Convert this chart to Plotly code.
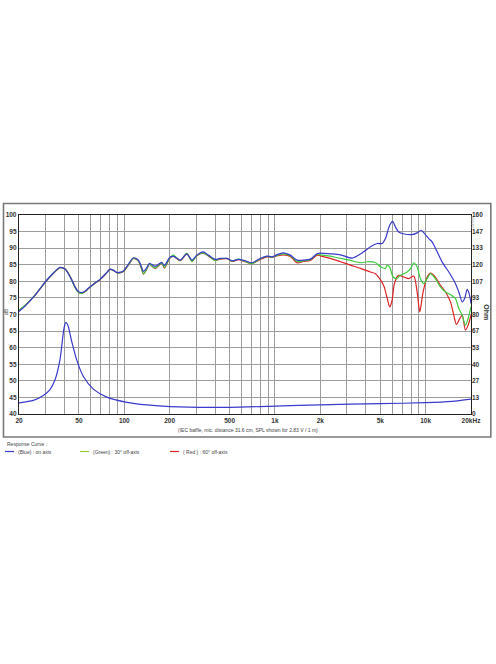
import math
import plotly.graph_objects as go

# ---------------- data ----------------
freq_lf = [20, 22, 25, 27.6, 30.6, 34, 37.4, 40.4, 42.5, 44.8, 47, 49.6, 52.2, 55, 57.7, 63, 69, 75,
           80.5, 85, 89, 95, 99, 107, 115, 124, 129, 134, 140, 147, 160, 177, 185, 200, 212, 235,
           260, 281, 303, 333, 362, 401, 433, 480, 518, 573, 635, 703, 798, 885, 955, 1057, 1141,
           1264, 1400, 1549, 1716, 1900]

spl_blue_lf = [70.9, 72.6, 75.3, 77.8, 80.4, 82.6, 84.2, 83.7, 82.3, 80.4, 78.4, 76.9, 76.6, 77.1, 77.9,
               79.3, 80.6, 82.2, 83.7, 83.3, 82.7, 82.8, 83.2, 85.3, 87.1, 86.4, 84.8, 83.0, 83.9, 85.4,
               84.5, 85.7, 84.8, 87.2, 87.5, 86.4, 88.3, 86.4, 87.9, 88.9, 87.9, 86.6, 86.9, 86.9, 86.2,
               86.6, 86.2, 85.6, 86.9, 87.6, 87.4, 88.2, 88.6, 87.9, 86.4, 86.4, 86.7, 88.3]

spl_green_lf = [71.3, 72.8, 75.4, 77.8, 80.3, 82.6, 84.1, 83.8, 82.4, 80.3, 78.2, 76.6, 76.3, 76.9, 77.8,
                79.3, 80.6, 82.2, 83.6, 83.3, 82.6, 82.7, 83.1, 85.1, 87.0, 86.2, 84.4, 82.3, 83.5, 85.2,
                84.0, 85.5, 84.2, 87.0, 87.9, 86.3, 88.5, 86.0, 87.8, 88.6, 87.7, 86.3, 86.8, 86.9, 86.1,
                86.7, 86.0, 85.3, 86.8, 87.5, 87.3, 88.0, 88.3, 87.7, 86.0, 86.2, 86.5, 88.2]

spl_red_lf = [71.1, 72.7, 75.3, 77.7, 80.3, 82.5, 84.1, 83.8, 82.5, 80.5, 78.3, 76.7, 76.4, 76.9, 77.8,
              79.2, 80.5, 82.1, 83.6, 83.2, 82.6, 82.6, 83.0, 85.0, 86.9, 86.1, 84.3, 82.2, 83.4, 85.1,
              83.8, 85.4, 84.0, 86.9, 87.6, 86.2, 88.3, 86.1, 87.7, 88.5, 87.6, 86.3, 86.7, 86.8, 86.0,
              86.5, 85.9, 85.3, 86.6, 87.4, 87.2, 87.8, 88.0, 87.5, 85.6, 86.0, 86.3, 87.9]

freq_blue_hf = [2000, 2330, 2720, 3250, 3880, 4300, 4765, 5140, 5410, 5770, 6040, 6300, 6620, 7340,
                8130, 8780, 9330, 9820, 10490, 11040, 11930, 12870, 14250, 15780, 16600, 17500,
                18200, 18870, 19450, 20000]
spl_blue_hf = [88.5, 88.3, 88.0, 87.0, 88.9, 90.4, 91.4, 91.4, 92.9, 96.9, 98.1, 96.4, 94.9, 94.2,
               94.1, 94.6, 95.4, 94.4, 92.9, 91.9, 88.9, 85.8, 82.8, 79.3, 76.8, 73.8,
               75.0, 77.6, 76.3, 73.3]

freq_green_hf = [2000, 2330, 2720, 3170, 3700, 4100, 4640, 5040, 5400, 5550, 5770, 6080, 6400, 6800,
                 7530, 7930, 8340, 8780, 9240, 9720, 10230, 10770, 11610, 12530, 13540, 14620,
                 15780, 16600, 17480, 18370, 19150, 20000]
spl_green_hf = [88.0, 87.6, 86.9, 86.3, 85.6, 85.9, 85.7, 84.3, 83.9, 84.8, 84.3, 81.3, 80.8, 81.8,
                82.8, 83.8, 85.6, 84.3, 80.8, 79.3, 80.8, 82.3, 80.8, 78.3, 76.8, 76.0,
                74.8, 71.8, 69.8, 66.8, 68.8, 72.3]

freq_red_hf = [2000, 2330, 2720, 3170, 3700, 4300, 4640, 5040, 5300, 5550, 5770, 5990, 6200, 6620,
               7150, 7720, 8340, 8780, 9140, 9620, 10230, 10770, 11610, 12530, 13540, 14620,
               15370, 16020, 16850, 17480, 18370, 19150, 20000]
spl_red_hf = [87.7, 86.9, 85.9, 84.9, 83.9, 82.8, 82.3, 80.3, 78.4, 75.0, 72.3, 74.3, 79.3, 81.8,
              81.3, 80.8, 81.6, 76.8, 70.8, 76.8, 81.3, 82.5, 81.3, 78.8, 76.8, 73.8,
              69.8, 67.0, 68.8, 69.8, 65.3, 66.8, 69.8]

freq_imp = [20, 24.9, 29, 32.1, 34.7, 37.4, 39.8, 40.9, 42.1, 44.8, 48.3, 53.5, 62.3, 76.5, 104,
            141, 201, 500, 1000, 2000, 5000, 10000, 15000, 20000]
imp_ohm = [8.9, 10.9, 14.8, 19.6, 27.5, 43.5, 69.1, 73.6, 71.7, 58.2, 43.5, 30.1, 20.0, 13.6, 9.4,
           7.3, 5.9, 5.4, 6.3, 7.4, 8.3, 9.1, 10.2, 12.0]

x_tick_vals = [20, 50, 100, 200, 500, 1000, 2000, 5000, 10000, 20000]
x_tick_text = ["20", "50", "100", "200", "500", "1k", "2k", "5k", "10k", "20kHz"]
x_minor_vals = [30, 40, 60, 70, 80, 90, 300, 400, 600, 700, 800, 900,
                3000, 4000, 6000, 7000, 8000, 9000]
y_tick_vals = [40, 45, 50, 55, 60, 65, 70, 75, 80, 85, 90, 95, 100]
ohm_tick_text = ["0", "13", "27", "40", "53", "67", "80", "93", "107", "120", "133", "147", "160"]

caption = "(IEC baffle, mic. distance 31.6 cm, SPL shown for 2.83 V / 1 m)"
legend_title = "Response Curve :"
legend_labels = ["(Blue) : on axis", "(Green) : 30° off-axis", "( Red ) : 60° off-axis"]

# ---------------- layout geometry (page pixels) ----------------
W, H = 496, 664
PLOT_L, PLOT_R, PLOT_T, PLOT_B = 19, 470.7, 215, 414
ML, MT = PLOT_L, PLOT_T
MR, MB = W - PLOT_R, H - PLOT_B
PW = PLOT_R - PLOT_L
PH = PLOT_B - PLOT_T


def px(x):
    return (x - PLOT_L) / PW


def py(y):
    return (PLOT_B - y) / PH


BLUE = "#3a3acc"
GREEN = "#3ccc3c"
RED = "#dd2222"
FONT = "Liberation Sans"

fig = go.Figure()

fig.add_trace(go.Scatter(x=freq_lf + freq_red_hf, y=spl_red_lf + spl_red_hf, mode="lines",
                         line=dict(color=RED, width=1.2, shape="spline", smoothing=0.7),
                         hoverinfo="skip"))
fig.add_trace(go.Scatter(x=freq_lf + freq_green_hf, y=spl_green_lf + spl_green_hf, mode="lines",
                         line=dict(color=GREEN, width=1.2, shape="spline", smoothing=0.7),
                         hoverinfo="skip"))
fig.add_trace(go.Scatter(x=freq_lf + freq_blue_hf, y=spl_blue_lf + spl_blue_hf, mode="lines",
                         line=dict(color=BLUE, width=1.2, shape="spline", smoothing=0.7),
                         hoverinfo="skip"))
fig.add_trace(go.Scatter(x=freq_imp, y=imp_ohm, mode="lines", yaxis="y2",
                         line=dict(color=BLUE, width=1.2, shape="spline", smoothing=0.7),
                         hoverinfo="skip"))

tickfont = dict(family=FONT, size=6.5, color="#333333", weight="bold")
GRID = "#9c9c9c"

fig.update_layout(
    template="none",
    width=W, height=H,
    margin=dict(l=ML, r=MR, t=MT, b=MB, pad=0, autoexpand=False),
    paper_bgcolor="white", plot_bgcolor="white",
    showlegend=False,
    xaxis=dict(type="log", range=[math.log10(20), math.log10(20000)], automargin=False,
               tickmode="array", tickvals=x_tick_vals, ticktext=x_tick_text,
               showgrid=True, gridcolor=GRID, gridwidth=1,
               minor=dict(tickmode="array", tickvals=x_minor_vals, showgrid=True,
                          gridcolor=GRID, gridwidth=1, ticks=""),
               showline=True, linecolor="#222222", linewidth=1.4, mirror=True,
               ticks="", tickfont=tickfont, zeroline=False),
    yaxis=dict(range=[40, 100], tickmode="array", tickvals=y_tick_vals, automargin=False,
               showgrid=True, gridcolor=GRID, gridwidth=1,
               showline=True, linecolor="#222222", linewidth=1.4, mirror=True,
               ticks="", tickfont=tickfont, zeroline=False),
    yaxis2=dict(range=[0, 160], overlaying="y", side="right", tickmode="array", automargin=False,
                tickvals=[i * 160 / 12 for i in range(13)], ticktext=ohm_tick_text,
                showgrid=False, showline=False, ticks="", tickfont=tickfont, zeroline=False),
)

shapes = [
    dict(type="rect", xref="paper", yref="paper", x0=px(3.5), x1=px(490.5), y0=py(437), y1=py(203.5),
         line=dict(color="#7a7a7a", width=1.6), fillcolor="rgba(0,0,0,0)"),
]
leg_x = [5, 80, 170]
leg_cols = [BLUE, "#9acd32", RED]
leg_y = 451.5
for lx, c in zip(leg_x, leg_cols):
    shapes.append(dict(type="line", xref="paper", yref="paper", x0=px(lx), x1=px(lx + 9),
                       y0=py(leg_y), y1=py(leg_y), line=dict(color=c, width=1.2)))
fig.update_layout(shapes=shapes)

small = dict(family=FONT, size=5, color="#444444")
ann = [
    dict(text=caption, x=px(248), y=py(430), xanchor="center", yanchor="middle", font=small),
    dict(text=legend_title, x=px(5), y=py(443.5), xanchor="left", yanchor="middle", font=small),
    dict(text="dB", x=px(6), y=py(311), xanchor="center", yanchor="middle", textangle=-90,
         font=dict(family=FONT, size=5, color="#333333")),
    dict(text="Ohm", x=px(486.5), y=py(312), xanchor="center", yanchor="middle", textangle=90,
         font=dict(family=FONT, size=7, color="#333333", weight="bold")),
    dict(text="dBSPL", x=px(472.5), y=py(223), xanchor="center", yanchor="middle", textangle=90,
         font=dict(family=FONT, size=4, color="#aaaaaa")),
]
for lx, lab in zip(leg_x, legend_labels):
    ann.append(dict(text=lab, x=px(lx + 11), y=py(leg_y), xanchor="left", yanchor="middle", font=small))
for a in ann:
    a.update(xref="paper", yref="paper", showarrow=False)
fig.update_layout(annotations=ann)

fig.write_html("out.html", config={"displayModeBar": False},
               post_script="document.body.style.margin='0px';")
